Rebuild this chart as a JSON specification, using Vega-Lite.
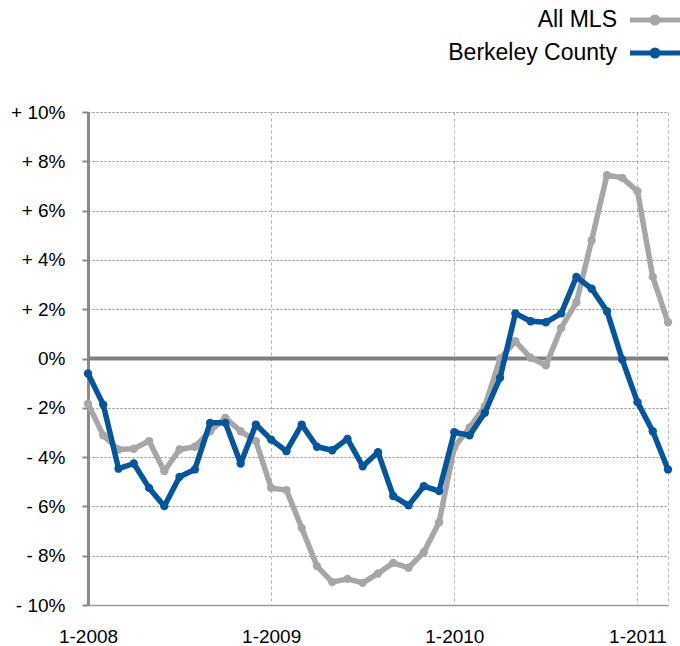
{
  "$schema": "https://vega.github.io/schema/vega-lite/v6.json",
  "width": 580,
  "height": 493,
  "autosize": {"type": "none"},
  "padding": {"left": 88, "top": 112, "right": 12, "bottom": 41},
  "background": "white",
  "config": {
    "font": "Liberation Sans",
    "view": {"stroke": null},
    "axis": {"labelFont": "Liberation Sans", "labelColor": "#000000", "labelFontSize": 19}
  },
  "datasets": {
    "series": [
      {"m": 0, "s": "All MLS", "v": -1.83}, {"m": 1, "s": "All MLS", "v": -3.12}, {"m": 2, "s": "All MLS", "v": -3.69}, {"m": 3, "s": "All MLS", "v": -3.66}, {"m": 4, "s": "All MLS", "v": -3.35}, {"m": 5, "s": "All MLS", "v": -4.57}, {"m": 6, "s": "All MLS", "v": -3.69}, {"m": 7, "s": "All MLS", "v": -3.58}, {"m": 8, "s": "All MLS", "v": -2.95}, {"m": 9, "s": "All MLS", "v": -2.41}, {"m": 10, "s": "All MLS", "v": -2.95}, {"m": 11, "s": "All MLS", "v": -3.35}, {"m": 12, "s": "All MLS", "v": -5.25}, {"m": 13, "s": "All MLS", "v": -5.34}, {"m": 14, "s": "All MLS", "v": -6.87}, {"m": 15, "s": "All MLS", "v": -8.42}, {"m": 16, "s": "All MLS", "v": -9.07}, {"m": 17, "s": "All MLS", "v": -8.94}, {"m": 18, "s": "All MLS", "v": -9.10}, {"m": 19, "s": "All MLS", "v": -8.72}, {"m": 20, "s": "All MLS", "v": -8.29}, {"m": 21, "s": "All MLS", "v": -8.49}, {"m": 22, "s": "All MLS", "v": -7.86}, {"m": 23, "s": "All MLS", "v": -6.65}, {"m": 24, "s": "All MLS", "v": -3.6}, {"m": 25, "s": "All MLS", "v": -2.8}, {"m": 26, "s": "All MLS", "v": -1.93}, {"m": 27, "s": "All MLS", "v": -0.01}, {"m": 28, "s": "All MLS", "v": 0.70}, {"m": 29, "s": "All MLS", "v": 0.03}, {"m": 30, "s": "All MLS", "v": -0.28}, {"m": 31, "s": "All MLS", "v": 1.24}, {"m": 32, "s": "All MLS", "v": 2.28}, {"m": 33, "s": "All MLS", "v": 4.80}, {"m": 34, "s": "All MLS", "v": 7.44}, {"m": 35, "s": "All MLS", "v": 7.33}, {"m": 36, "s": "All MLS", "v": 6.79}, {"m": 37, "s": "All MLS", "v": 3.31}, {"m": 38, "s": "All MLS", "v": 1.47},
      {"m": 0, "s": "Berkeley County", "v": -0.61}, {"m": 1, "s": "Berkeley County", "v": -1.87}, {"m": 2, "s": "Berkeley County", "v": -4.47}, {"m": 3, "s": "Berkeley County", "v": -4.26}, {"m": 4, "s": "Berkeley County", "v": -5.25}, {"m": 5, "s": "Berkeley County", "v": -5.99}, {"m": 6, "s": "Berkeley County", "v": -4.80}, {"m": 7, "s": "Berkeley County", "v": -4.50}, {"m": 8, "s": "Berkeley County", "v": -2.61}, {"m": 9, "s": "Berkeley County", "v": -2.61}, {"m": 10, "s": "Berkeley County", "v": -4.26}, {"m": 11, "s": "Berkeley County", "v": -2.68}, {"m": 12, "s": "Berkeley County", "v": -3.29}, {"m": 13, "s": "Berkeley County", "v": -3.76}, {"m": 14, "s": "Berkeley County", "v": -2.68}, {"m": 15, "s": "Berkeley County", "v": -3.58}, {"m": 16, "s": "Berkeley County", "v": -3.72}, {"m": 17, "s": "Berkeley County", "v": -3.26}, {"m": 18, "s": "Berkeley County", "v": -4.37}, {"m": 19, "s": "Berkeley County", "v": -3.80}, {"m": 20, "s": "Berkeley County", "v": -5.58}, {"m": 21, "s": "Berkeley County", "v": -5.96}, {"m": 22, "s": "Berkeley County", "v": -5.18}, {"m": 23, "s": "Berkeley County", "v": -5.38}, {"m": 24, "s": "Berkeley County", "v": -2.99}, {"m": 25, "s": "Berkeley County", "v": -3.12}, {"m": 26, "s": "Berkeley County", "v": -2.20}, {"m": 27, "s": "Berkeley County", "v": -0.78}, {"m": 28, "s": "Berkeley County", "v": 1.83}, {"m": 29, "s": "Berkeley County", "v": 1.51}, {"m": 30, "s": "Berkeley County", "v": 1.47}, {"m": 31, "s": "Berkeley County", "v": 1.83}, {"m": 32, "s": "Berkeley County", "v": 3.31}, {"m": 33, "s": "Berkeley County", "v": 2.83}, {"m": 34, "s": "Berkeley County", "v": 1.92}, {"m": 35, "s": "Berkeley County", "v": -0.04}, {"m": 36, "s": "Berkeley County", "v": -1.77}, {"m": 37, "s": "Berkeley County", "v": -2.95}, {"m": 38, "s": "Berkeley County", "v": -4.50}
    ],
    "zero": [{"v": 0}]
  },
  "layer": [
    {
      "data": {"name": "zero"},
      "mark": {"type": "rule", "color": "#808080", "strokeWidth": 4},
      "encoding": {
        "y": {
          "field": "v", "type": "quantitative",
          "scale": {"domain": [-10, 10], "nice": false, "zero": false},
          "axis": {
            "values": [-10, -8, -6, -4, -2, 0, 2, 4, 6, 8, 10],
            "title": null,
            "labelExpr": "datum.value > 0 ? '+ ' + datum.value + '%' : (datum.value < 0 ? '- ' + abs(datum.value) + '%' : '0%')",
            "domainColor": "#8a8a8a", "domainWidth": 3,
            "tickColor": "#8a8a8a", "tickWidth": 2, "tickSize": 6,
            "labelPadding": 17,
            "gridColor": "#8c8c8c", "gridDash": [2, 2], "gridWidth": 1.2
          }
        }
      }
    },
    {
      "data": {"name": "series"},
      "transform": [{"filter": "datum.s === 'All MLS'"}],
      "mark": {"type": "line", "strokeWidth": 5.5, "strokeJoin": "round"},
      "encoding": {
        "x": {
          "field": "m", "type": "quantitative",
          "scale": {"domain": [0, 38], "nice": false, "zero": false},
          "axis": {
            "values": [0, 12, 24, 36, 38],
            "title": null,
            "labelExpr": "datum.value === 38 ? '' : '1-' + (2008 + datum.value / 12)",
            "labelFlush": false,
            "ticks": false,
            "labelPadding": 22,
            "domainColor": "#9a9a9a", "domainWidth": 1.5,
            "gridColor": "#b0b0b0", "gridDash": [3, 3], "gridWidth": 1
          }
        },
        "y": {"field": "v", "type": "quantitative"},
        "color": {
          "field": "s", "type": "nominal",
          "scale": {"domain": ["All MLS", "Berkeley County"], "range": ["#a6a6a6", "#04559a"]},
          "legend": {
            "title": null,
            "orient": "none",
            "legendX": 552,
            "legendY": -107,
            "padding": 0,
            "symbolType": "M-2,0L2,0M-0.24,0A0.24,0.24 0 1,0 0.24,0A0.24,0.24 0 1,0 -0.24,0",
            "symbolSize": 625,
            "symbolStrokeWidth": 5,
            "labelFont": "Liberation Sans",
            "labelFontSize": 23,
            "labelColor": "#000000",
            "labelAlign": "right",
            "labelOffset": -53,
            "labelLimit": 400,
            "rowPadding": 5
          }
        }
      }
    },
    {
      "data": {"name": "series"},
      "transform": [{"filter": "datum.s === 'All MLS'"}],
      "mark": {"type": "circle", "size": 70, "opacity": 1},
      "encoding": {
        "x": {"field": "m", "type": "quantitative"},
        "y": {"field": "v", "type": "quantitative"},
        "color": {"field": "s", "type": "nominal"}
      }
    },
    {
      "data": {"name": "series"},
      "transform": [{"filter": "datum.s === 'Berkeley County'"}],
      "mark": {"type": "line", "strokeWidth": 5.5, "strokeJoin": "round"},
      "encoding": {
        "x": {"field": "m", "type": "quantitative"},
        "y": {"field": "v", "type": "quantitative"},
        "color": {"field": "s", "type": "nominal"}
      }
    },
    {
      "data": {"name": "series"},
      "transform": [{"filter": "datum.s === 'Berkeley County'"}],
      "mark": {"type": "circle", "size": 70, "opacity": 1},
      "encoding": {
        "x": {"field": "m", "type": "quantitative"},
        "y": {"field": "v", "type": "quantitative"},
        "color": {"field": "s", "type": "nominal"}
      }
    }
  ]
}
